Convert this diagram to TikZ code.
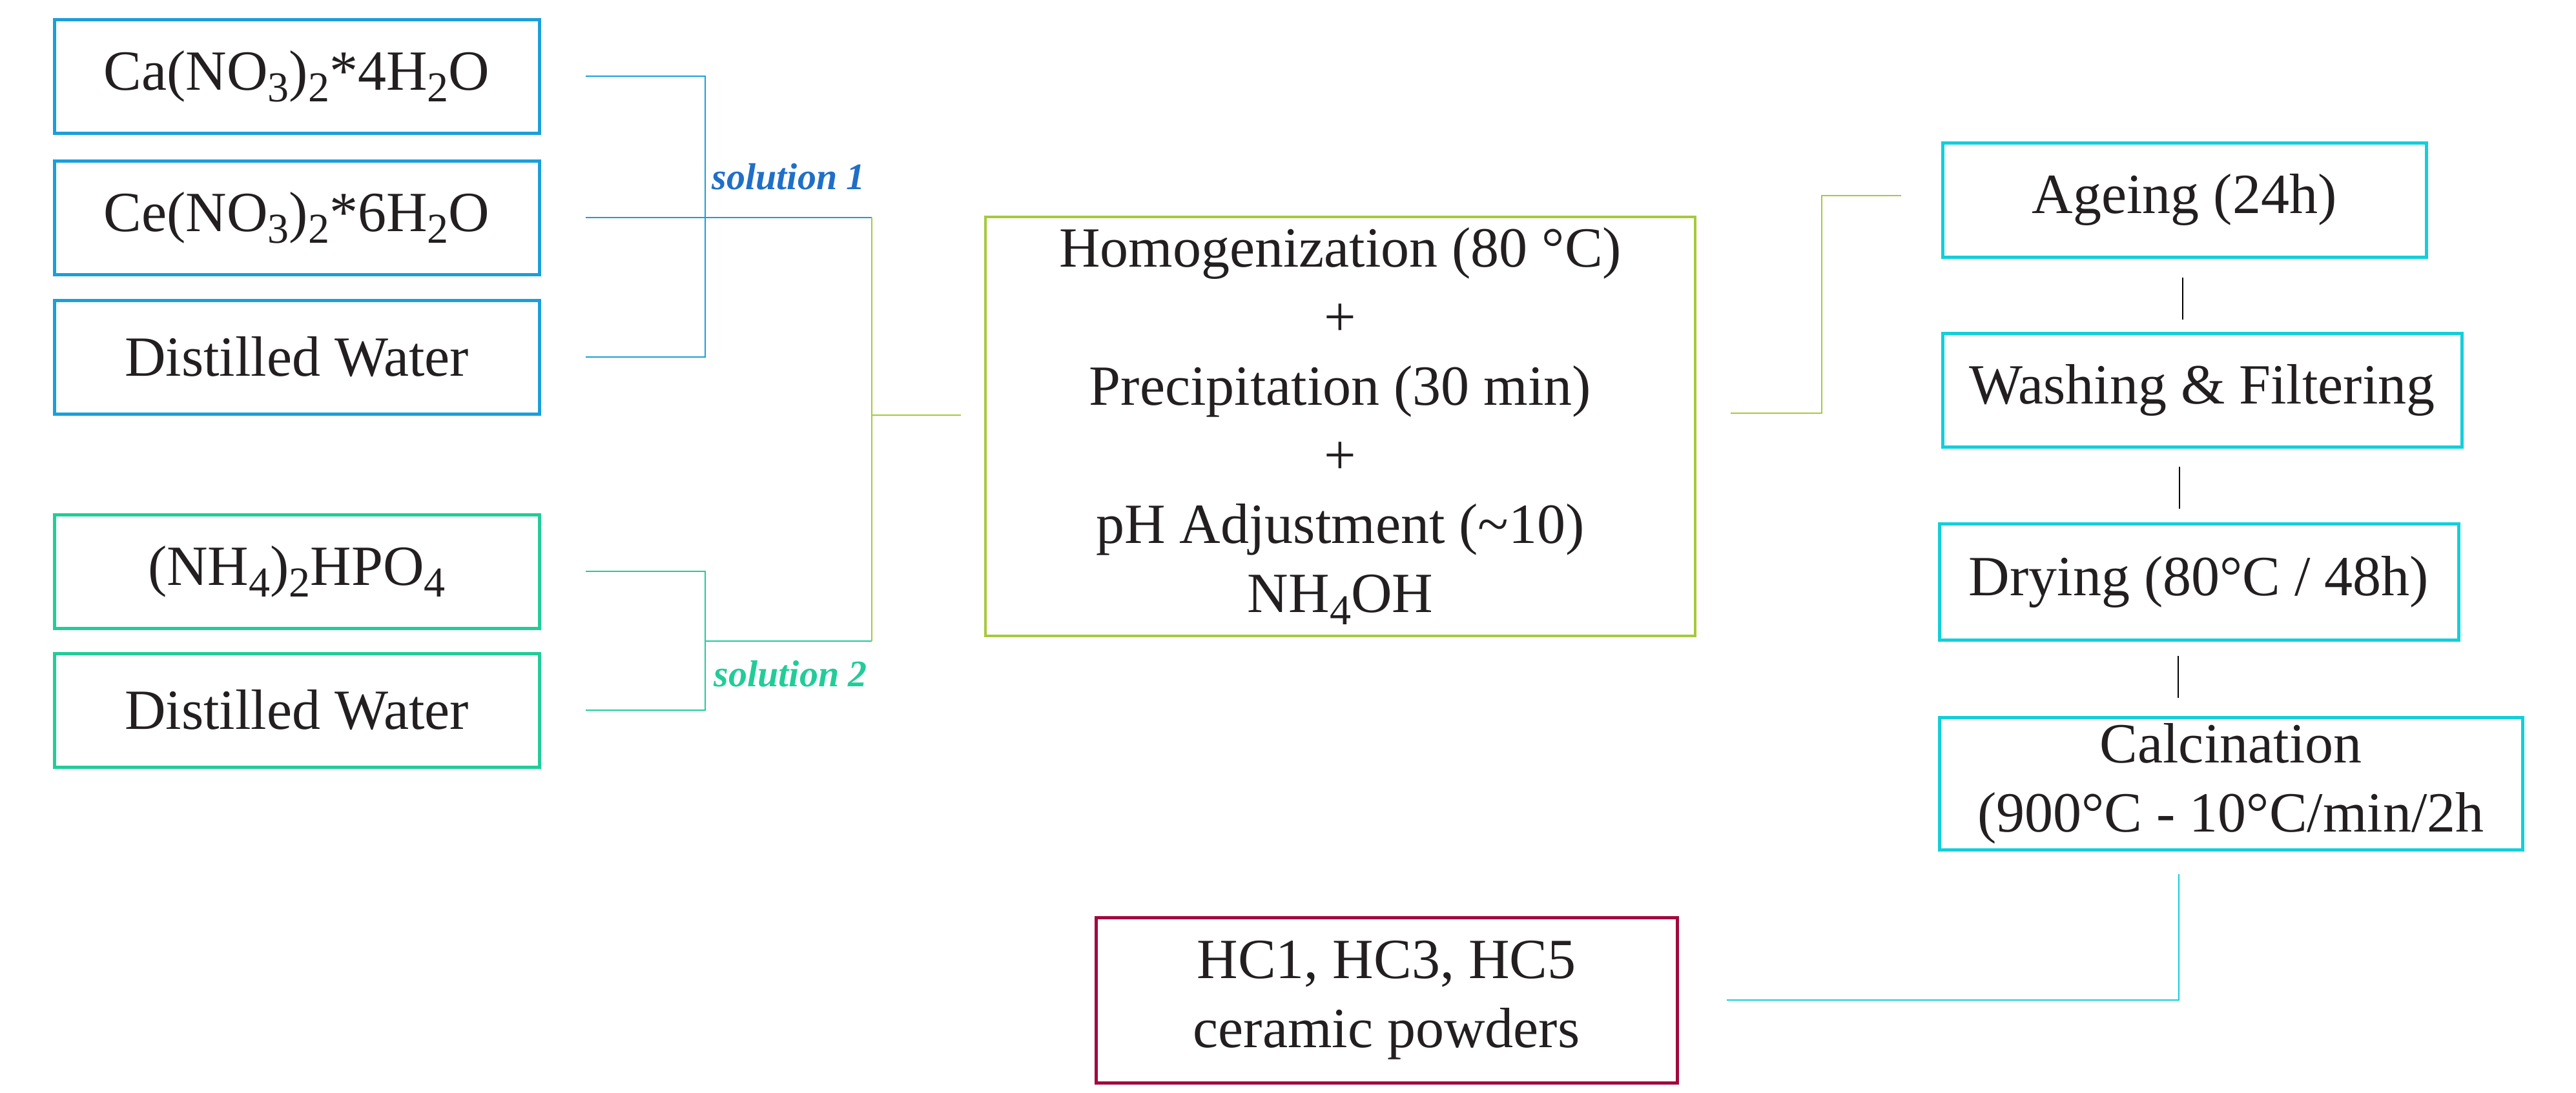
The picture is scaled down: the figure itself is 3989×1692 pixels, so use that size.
\documentclass[tikz,border=0pt]{standalone}
\usepackage{fontspec}
\setmainfont{Liberation Serif}
\usetikzlibrary{calc}
\definecolor{cblue}{HTML}{1A9FDB}
\definecolor{sblue}{HTML}{1F6FC8}
\definecolor{cmint}{HTML}{22CC99}
\definecolor{cyg}{HTML}{A6C93C}
\definecolor{ccyan}{HTML}{12CFDA}
\definecolor{cred}{HTML}{A10A3C}
\definecolor{ctext}{HTML}{231F20}
\newcommand\chs[1]{\raisebox{-0.45ex}{\fontsize{16.5}{17}\selectfont #1}}
\begin{document}
\begin{tikzpicture}[x=0.25pt,y=-0.25pt,
  box/.style={draw, line width=1.25pt, inner sep=0pt, text=ctext, align=center,
    font=\fontsize{22}{26.75}\selectfont},
  bluebox/.style={box, draw=cblue, minimum width=187.75pt, minimum height=44pt},
  mintbox/.style={box, draw=cmint, minimum width=187.75pt, minimum height=44pt},
  cyanbox/.style={box, draw=ccyan},
  lnk/.style={line width=0.5pt},
  sollabel/.style={font=\fontsize{14.5}{16}\selectfont\bfseries\itshape, anchor=base west, inner sep=0pt}
]
\useasboundingbox (0,0) rectangle (3989,1692);

% left input boxes
\node[bluebox] (ca)  at (459.5,118) {Ca(NO\chs{3})\chs{2}*4H\chs{2}O};
\node[bluebox] (ce)  at (459.5,337) {Ce(NO\chs{3})\chs{2}*6H\chs{2}O};
\node[bluebox] (dw1) at (459.5,553) {Distilled Water};
\node[mintbox] (nh)  at (459.5,885) {(NH\chs{4})\chs{2}HPO\chs{4}};
\node[mintbox] (dw2) at (459.5,1100) {Distilled Water};

% central box
\node[box, draw=cyg, line width=1pt, minimum width=274.75pt, minimum height=162.25pt] (mix) at (2075.5,660)
  {Homogenization (80 °C)\\+\\Precipitation (30 min)\\+\\pH Adjustment (\textasciitilde10)\\NH\chs{4}OH};

% right column
\node[cyanbox, minimum width=187.25pt, minimum height=44.25pt] (age) at (3382.5,309.5) {Ageing (24h)};
\node[cyanbox, minimum width=201pt, minimum height=44pt] (wash) at (3410,604) {Washing \& Filtering};
\node[cyanbox, minimum width=201pt, minimum height=45pt] (dry) at (3405,901) {Drying (80°C / 48h)};
\node[cyanbox, minimum width=225.75pt, minimum height=51.25pt] (calc) at (3454.5,1213.5) {Calcination\\(900°C - 10°C/min/2h};

% product
\node[box, draw=cred, minimum width=225pt, minimum height=64pt] (hc) at (2147,1549) {HC1, HC3, HC5\\ceramic powders};

% solution 1 connectors
\coordinate (j1) at ($(ce.east)+(254,0)$);
\coordinate (s1end) at ($(ce.east)+(512,0)$);
\draw[lnk, cblue] ($(ca.east)+(69,0)$) -| ($(dw1.east)+(254,0)$) -- ($(dw1.east)+(69,0)$);
\draw[lnk, cblue] ($(ce.east)+(69,0)$) -- (s1end);
\node[sollabel, text=sblue] (sol1) at (1102,293) {solution 1};

% solution 2 connectors
\coordinate (j2) at ($(nh.east)!0.5!(dw2.east)+(254,0)$);
\coordinate (s2end) at ($(nh.east)!0.5!(dw2.east)+(512,0)$);
\draw[lnk, cmint] ($(nh.east)+(69,0)$) -| ($(dw2.east)+(254,0)$) -- ($(dw2.east)+(69,0)$);
\draw[lnk, cmint] (j2) -- (s2end);
\node[sollabel, text=cmint] (sol2) at (1105,1063) {solution 2};

% merge into central box
\draw[lnk, cyg] (s1end) -- (s2end);
\draw[lnk, cyg] (s1end |- 0,643) -- ($(mix.west)+(-36,-17)$);

% central box to ageing
\draw[lnk, cyg] ($(mix.east)+(53,-20)$) -| ($(age.west)+(-185,-7)$) -- ($(age.west)+(-62,-7)$);

% black links between steps
\draw[lnk, black] ($(age.south)+(-3,29)$) -- ($(age.south |- wash.north)+(-3,-19)$);
\draw[lnk, black] ($(age.south |- wash.south)+(-8,28)$) -- ($(age.south |- dry.north)+(-8,-21)$);
\draw[lnk, black] ($(age.south |- dry.south)+(-10,22)$) -- ($(age.south |- calc.north)+(-10,-28)$);

% calcination to product
\draw[lnk, ccyan] ($(calc.south)+(-81,35)$) |- ($(hc.east)+(74,0)$);
\end{tikzpicture}
\end{document}
